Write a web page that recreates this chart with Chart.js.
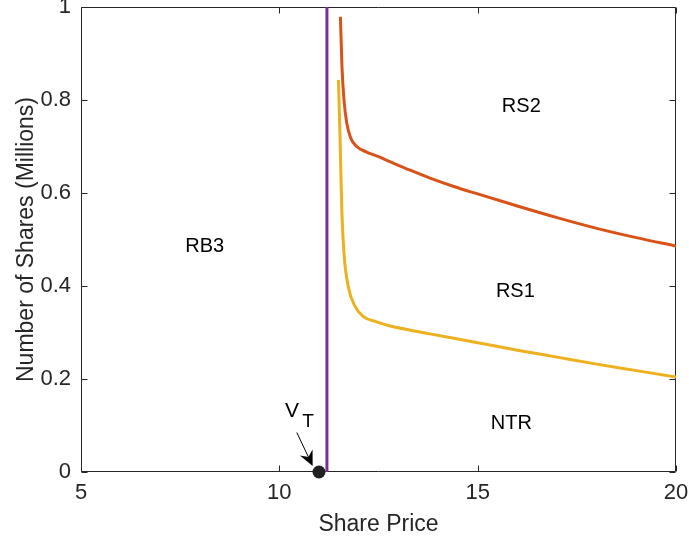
<!DOCTYPE html>
<html>
<head>
<meta charset="utf-8">
<script src="https://cdn.jsdelivr.net/npm/chart.js@4/dist/chart.umd.min.js"></script>
<style>
  html, body { margin: 0; padding: 0; background: #ffffff; }
  canvas { display: block; }
</style>
</head>
<body>
<canvas id="chart" width="689" height="545"></canvas>
<script>
// Axis ticks
const xTicks = [5, 10, 15, 20];
const yTicks = [0, 0.2, 0.4, 0.6, 0.8, 1];

// Upper boundary (RS2 / RS1)
const priceRS2  = [11.54, 11.58, 11.63, 11.70, 11.80, 11.95, 12.20, 12.50, 12.80, 13.30, 13.80, 14.40, 15.00, 16.00, 17.00, 18.00, 19.00, 20.00];
const sharesRS2 = [0.979, 0.870, 0.800, 0.750, 0.718, 0.700, 0.688, 0.678, 0.667, 0.649, 0.632, 0.614, 0.598, 0.572, 0.547, 0.524, 0.504, 0.486];

// Lower boundary (RS1 / NTR)
const priceRS1  = [11.49, 11.53, 11.57, 11.63, 11.74, 11.91, 12.12, 12.45, 12.80, 13.30, 13.80, 15.00, 16.00, 17.00, 18.00, 19.00, 20.00];
const sharesRS1 = [0.843, 0.721, 0.578, 0.470, 0.398, 0.356, 0.334, 0.323, 0.314, 0.305, 0.297, 0.278, 0.262, 0.247, 0.232, 0.218, 0.204];

// Vertical buy/sell boundary and the threshold value V_T
const boundaryPrice = 11.2;
const boundaryShares = [0, 1];
const vtPrice = 11;
const vtShares = 0;

// Region names and where they sit (data units)
const regionNames = ['RB3', 'RS2', 'RS1', 'NTR'];
const regionPrice = [8.12, 16.1, 15.95, 15.85];
const regionShares = [0.484, 0.785, 0.389, 0.105];

// V_T annotation: text anchor and arrow (data units)
const vtLabelPrice = 10.32, vtLabelShares = 0.131;
const vtArrowFrom = [10.44, 0.085];
const vtArrowTo = [10.84, 0.013];

const AXIS = '#262626';
const FONT = '"Liberation Sans", Arial, Helvetica, sans-serif';

const toPoints = (xs, ys) => xs.map((x, i) => ({ x, y: ys[i] }));

// Box around the plot with inward tick marks on all four sides
const axesBox = {
  id: 'axesBox',
  beforeDatasetsDraw(chart) {
    const { ctx, chartArea: a, scales: { x, y } } = chart;
    const L = Math.round(a.left) + 0.5, R = Math.round(a.right) - 0.5;
    const T = Math.round(a.top) + 0.5, B = Math.round(a.bottom) - 0.5;
    const tl = 6;
    ctx.save();
    ctx.strokeStyle = AXIS;
    ctx.lineWidth = 1;
    ctx.beginPath();
    ctx.rect(L, T, R - L, B - T);
    xTicks.forEach(v => {
      const px = Math.round(x.getPixelForValue(v)) + 0.5;
      ctx.moveTo(px, B); ctx.lineTo(px, B - tl);
      ctx.moveTo(px, T); ctx.lineTo(px, T + tl);
    });
    yTicks.forEach(v => {
      const py = Math.round(y.getPixelForValue(v)) + 0.5;
      ctx.moveTo(L, py); ctx.lineTo(L + tl, py);
      ctx.moveTo(R, py); ctx.lineTo(R - tl, py);
    });
    ctx.stroke();
    ctx.restore();
  }
};

// Region labels and the V_T arrow
const annotations = {
  id: 'annotations',
  afterDatasetsDraw(chart) {
    const { ctx, scales: { x, y } } = chart;
    ctx.save();
    ctx.fillStyle = '#000000';
    ctx.font = '20px ' + FONT;
    ctx.textAlign = 'center';
    ctx.textBaseline = 'middle';
    regionNames.forEach((name, i) => {
      ctx.fillText(name, x.getPixelForValue(regionPrice[i]), y.getPixelForValue(regionShares[i]));
    });

    // V with subscript T
    const vx = x.getPixelForValue(vtLabelPrice), vy = y.getPixelForValue(vtLabelShares);
    ctx.font = '21px ' + FONT;
    ctx.fillText('V', vx, vy);
    ctx.font = '19px ' + FONT;
    ctx.fillText('T', vx + 16, vy + 11);

    // arrow
    const x0 = x.getPixelForValue(vtArrowFrom[0]), y0 = y.getPixelForValue(vtArrowFrom[1]);
    const x1 = x.getPixelForValue(vtArrowTo[0]), y1 = y.getPixelForValue(vtArrowTo[1]);
    const ang = Math.atan2(y1 - y0, x1 - x0);
    const c = Math.cos(ang), s = Math.sin(ang);
    const hl = 15, hw = 7, notch = 5;
    const bx = x1 - hl * c, by = y1 - hl * s;
    ctx.strokeStyle = '#000000';
    ctx.lineWidth = 1;
    ctx.beginPath();
    ctx.moveTo(x0, y0);
    ctx.lineTo(x1 - (hl - notch) * c, y1 - (hl - notch) * s);
    ctx.stroke();
    const nx = -s, ny = c;
    ctx.beginPath();
    ctx.moveTo(x1, y1);
    ctx.lineTo(bx + nx * hw, by + ny * hw);
    ctx.lineTo(x1 - (hl - notch) * c, y1 - (hl - notch) * s);
    ctx.lineTo(bx - nx * hw, by - ny * hw);
    ctx.closePath();
    ctx.fillStyle = '#000000';
    ctx.fill();
    ctx.restore();
  }
};

new Chart(document.getElementById('chart'), {
  type: 'scatter',
  data: {
    datasets: [
      {
        label: 'Boundary',
        data: boundaryShares.map(s => ({ x: boundaryPrice, y: s })),
        showLine: true,
        borderColor: '#7E2F8E',
        borderWidth: 3,
        pointRadius: 0,
        clip: false
      },
      {
        label: 'RS2 boundary',
        data: toPoints(priceRS2, sharesRS2),
        showLine: true,
        borderColor: '#D95319',
        borderWidth: 3,
        pointRadius: 0,
        cubicInterpolationMode: 'monotone'
      },
      {
        label: 'RS1 boundary',
        data: toPoints(priceRS1, sharesRS1),
        showLine: true,
        borderColor: '#EDB120',
        borderWidth: 3,
        pointRadius: 0,
        cubicInterpolationMode: 'monotone'
      },
      {
        label: 'V_T',
        data: [{ x: vtPrice, y: vtShares }],
        showLine: false,
        pointRadius: 6.5,
        pointBackgroundColor: '#222222',
        pointBorderColor: '#222222',
        pointBorderWidth: 0,
        clip: false
      }
    ]
  },
  options: {
    responsive: false,
    devicePixelRatio: 1,
    animation: false,
    events: [],
    layout: { padding: { top: 7, right: 13, left: 0, bottom: 0 } },
    plugins: {
      legend: { display: false },
      tooltip: { enabled: false }
    },
    scales: {
      x: {
        type: 'linear',
        min: 5,
        max: 20,
        afterBuildTicks: s => { s.ticks = xTicks.map(v => ({ value: v })); },
        afterFit: s => { s.height = 73; s.paddingLeft = 0; s.paddingRight = 0; },
        grid: { display: false, drawTicks: false },
        border: { display: false },
        ticks: { color: AXIS, font: { family: FONT, size: 22 }, padding: 8, maxRotation: 0, callback: v => String(v) },
        title: { display: true, text: 'Share Price', color: AXIS, font: { family: FONT, size: 23 }, padding: { top: 0, bottom: 7 } }
      },
      y: {
        type: 'linear',
        min: 0,
        max: 1,
        afterBuildTicks: s => { s.ticks = yTicks.map(v => ({ value: v })); },
        afterFit: s => { s.width = 81; s.paddingTop = 0; s.paddingBottom = 0; },
        grid: { display: false, drawTicks: false },
        border: { display: false },
        ticks: { color: AXIS, font: { family: FONT, size: 22 }, padding: 10, callback: v => String(v) },
        title: { display: true, text: 'Number of Shares (Millions)', color: AXIS, font: { family: FONT, size: 23 }, padding: { top: 13, bottom: 0 } }
      }
    }
  },
  plugins: [axesBox, annotations]
});
</script>
</body>
</html>
